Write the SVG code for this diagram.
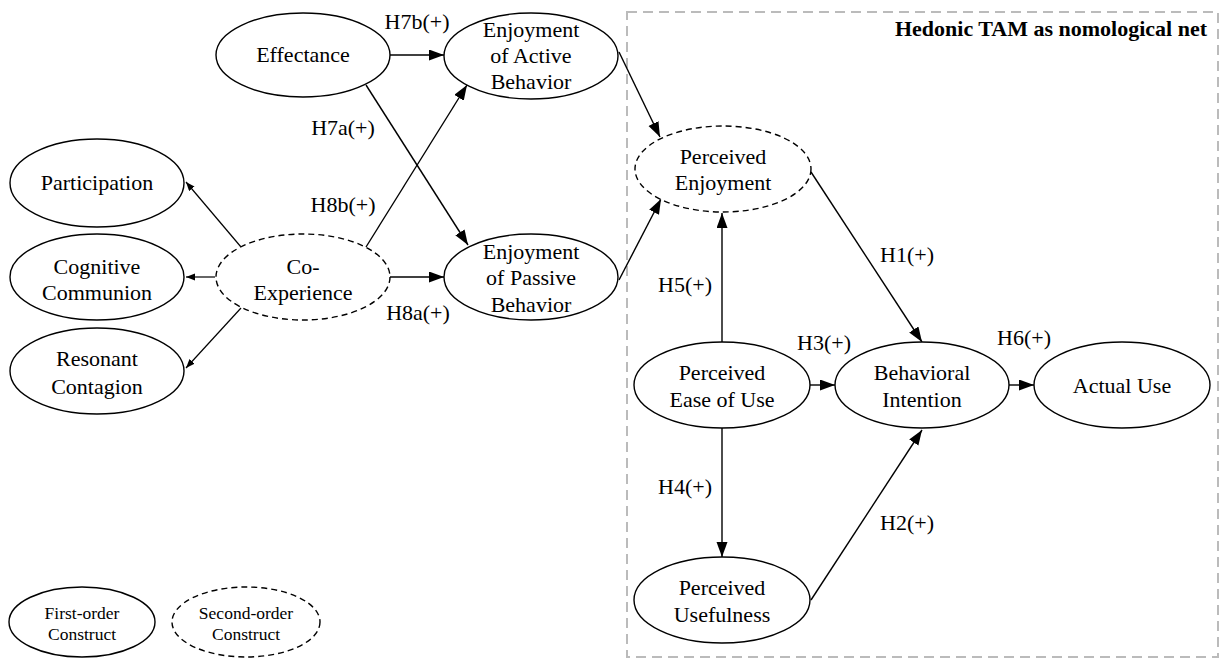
<svg xmlns="http://www.w3.org/2000/svg" width="1224" height="659" viewBox="0 0 1224 659">
<style>
.n{fill:#fff;stroke:#000;stroke-width:1.4}
.d{fill:#fff;stroke:#000;stroke-width:1.4;stroke-dasharray:6 4}
text{font-family:"Liberation Serif","Times New Roman",serif;font-size:22px;fill:#000;text-anchor:middle}
.lg{font-size:17.5px}
.c{stroke:#000;stroke-width:1.4;fill:none;marker-end:url(#a)}
.s{stroke:#000;stroke-width:1.2;fill:none;marker-end:url(#b)}
</style>
<defs>
<marker id="a" markerUnits="userSpaceOnUse" markerWidth="16" markerHeight="12" refX="15" refY="5.5" orient="auto"><path d="M0,0 L15,5.5 L0,11 z" fill="#000"/></marker>
<marker id="b" markerUnits="userSpaceOnUse" markerWidth="10" markerHeight="8" refX="9" refY="3.5" orient="auto"><path d="M0,0 L9,3.5 L0,7 z" fill="#000"/></marker>
</defs>
<rect x="627" y="12" width="591" height="645" fill="none" stroke="#bbb" stroke-width="2" stroke-dasharray="10 6"/>
<text x="1207" y="36" style="font-weight:bold;text-anchor:end">Hedonic TAM as nomological net</text>
<g id="connectors">
<path class="c" d="M390,55 L444,55"/>
<path class="c" d="M366,85 L468,245"/>
<path class="c" d="M366,247 L467,85"/>
<path class="c" d="M390,277 L444,277"/>
<path class="c" d="M619,52 L660,137"/>
<path class="c" d="M619,280 L661,199"/>
<path class="c" d="M722,342 L722,213"/>
<path class="c" d="M811,172 L922,342"/>
<path class="c" d="M810,385 L835,385"/>
<path class="c" d="M1009,385 L1034,385"/>
<path class="c" d="M722,428 L722,557"/>
<path class="c" d="M811,600 L922,430"/>
<path class="s" d="M241,247 L186,182"/>
<path class="s" d="M215,277 L186,277"/>
<path class="s" d="M241,308 L186,368"/>
<text x="417" y="29">H7b(+)</text>
<text x="343" y="135">H7a(+)</text>
<text x="343" y="212">H8b(+)</text>
<text x="418" y="320">H8a(+)</text>
<text x="907" y="262">H1(+)</text>
<text x="685" y="292">H5(+)</text>
<text x="824" y="350">H3(+)</text>
<text x="1024" y="345">H6(+)</text>
<text x="685" y="494">H4(+)</text>
<text x="907" y="530">H2(+)</text>
</g>
<g id="effectance"><ellipse class="n" cx="303" cy="55" rx="87" ry="42"/><text x="303" y="62">Effectance</text></g>
<g id="active"><ellipse class="n" cx="531" cy="56" rx="87" ry="43"/><text x="531" y="37">Enjoyment</text><text x="531" y="63">of Active</text><text x="531" y="89">Behavior</text></g>
<g id="participation"><ellipse class="n" cx="97" cy="183" rx="87" ry="44"/><text x="97" y="190">Participation</text></g>
<g id="cognitive"><ellipse class="n" cx="97" cy="277" rx="87" ry="43"/><text x="97" y="274">Cognitive</text><text x="97" y="300">Communion</text></g>
<g id="resonant"><ellipse class="n" cx="97" cy="371" rx="87" ry="43"/><text x="97" y="366">Resonant</text><text x="97" y="394">Contagion</text></g>
<g id="coexp"><ellipse class="d" cx="303" cy="277" rx="87" ry="43"/><text x="303" y="274">Co-</text><text x="303" y="300">Experience</text></g>
<g id="passive"><ellipse class="n" cx="531" cy="277" rx="87" ry="43"/><text x="531" y="259">Enjoyment</text><text x="531" y="285">of Passive</text><text x="531" y="312">Behavior</text></g>
<g id="pe"><ellipse class="d" cx="723" cy="169" rx="88" ry="43"/><text x="723" y="164">Perceived</text><text x="723" y="190">Enjoyment</text></g>
<g id="peou"><ellipse class="n" cx="722" cy="385" rx="88" ry="43"/><text x="722" y="380">Perceived</text><text x="722" y="407">Ease of Use</text></g>
<g id="bi"><ellipse class="n" cx="922" cy="385" rx="87" ry="43"/><text x="922" y="380">Behavioral</text><text x="922" y="407">Intention</text></g>
<g id="au"><ellipse class="n" cx="1122" cy="385" rx="88" ry="43"/><text x="1122" y="393">Actual Use</text></g>
<g id="pu"><ellipse class="n" cx="722" cy="600" rx="88" ry="43"/><text x="722" y="595">Perceived</text><text x="722" y="622">Usefulness</text></g>
<g id="legend1"><ellipse class="n" cx="82" cy="622" rx="73" ry="35"/><text class="lg" x="82" y="619">First-order</text><text class="lg" x="82" y="640">Construct</text></g>
<g id="legend2"><ellipse class="d" cx="246" cy="622" rx="74" ry="35"/><text class="lg" x="246" y="619">Second-order</text><text class="lg" x="246" y="640">Construct</text></g>
</svg>
